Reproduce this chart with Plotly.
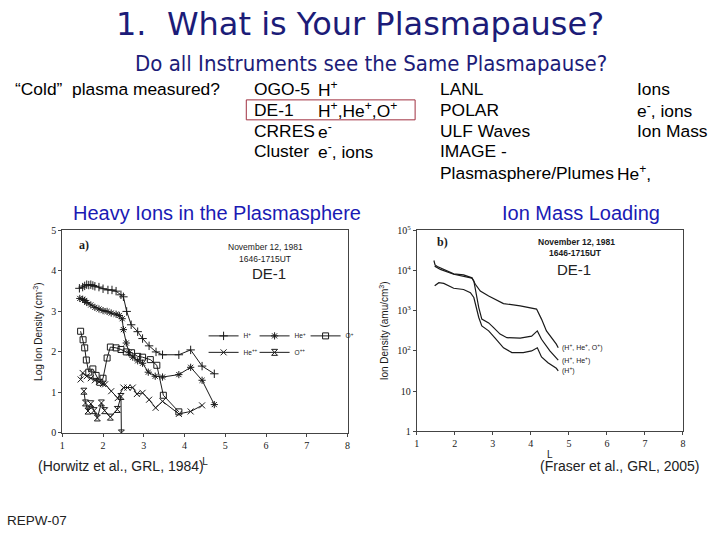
import math
import plotly.graph_objects as go

# ---------------- Left panel: DE-1 log ion density (cm^-3) vs L ----------------
H_L = [1.42, 1.5, 1.55, 1.6, 1.65, 1.7, 1.75, 1.8, 1.9, 2.0, 2.12, 2.22, 2.32, 2.44, 2.5,
       2.58, 2.69, 2.85, 2.97, 3.13, 3.3, 3.46, 3.86, 4.15, 4.43, 4.73]
H_N = [3.57, 3.6, 3.63, 3.66, 3.65, 3.66, 3.64, 3.62, 3.6, 3.56, 3.53, 3.53, 3.5, 3.41, 3.36,
       3.0, 2.67, 2.5, 2.33, 2.15, 2.0, 1.93, 1.93, 2.05, 1.65, 1.46]

HeP_L = [1.43, 1.5, 1.55, 1.6, 1.7, 1.8, 1.9, 2.0, 2.1, 2.2, 2.32, 2.4, 2.47, 2.5, 2.57,
         2.64, 2.73, 2.85, 2.97, 3.11, 3.28, 3.46, 3.86, 4.15, 4.43, 4.73]
HeP_N = [3.32, 3.3, 3.27, 3.22, 3.16, 3.1, 3.06, 3.02, 3.0, 2.96, 2.93, 2.9, 2.82, 2.55, 2.22,
         1.98, 1.87, 1.78, 1.72, 1.5, 1.4, 1.38, 1.44, 1.62, 1.3, 0.7]

O_L = [1.45, 1.51, 1.55, 1.59, 1.65, 1.75, 1.83, 1.92, 2.0, 2.1, 2.18, 2.32, 2.44, 2.57,
       2.7, 2.85, 2.97, 3.16, 3.32, 3.48, 3.86]
O_N = [2.51, 2.3, 2.1, 1.8, 1.5, 1.58, 1.42, 1.25, 1.35, 1.85, 2.12, 2.1, 2.06, 2.0,
       1.98, 1.89, 1.87, 1.81, 1.67, 0.93, 0.52]

HePP_L = [1.45, 1.5, 1.6, 1.7, 1.8, 1.9, 2.0, 2.05, 2.2, 2.36, 2.5, 2.6, 2.73, 2.83, 2.97,
          3.13, 3.29, 3.46, 3.86, 4.15, 4.43]
HePP_N = [1.32, 1.48, 1.4, 1.35, 1.3, 1.26, 1.21, 1.2, 1.03, 0.86, 1.12, 1.12, 1.12, 0.96, 0.99,
          0.82, 0.62, 0.78, 0.47, 0.53, 0.68]

OPP_L = [1.53, 1.57, 1.63, 1.7, 1.78, 1.86, 1.96, 2.04, 2.18, 2.35, 2.44, 2.45]
OPP_N = [1.03, 0.74, 0.54, 0.72, 0.55, 0.37, 0.74, 0.55, 0.39, 0.58, 0.9, 0.0]

# ---------------- Right panel: mass density (amu/cm^3) vs L ----------------
ALL_L = [1.45, 1.48, 1.54, 1.71, 1.97, 2.23, 2.45, 2.54, 2.67, 2.89, 3.1, 3.28, 3.72,
         4.15, 4.28, 4.41, 4.67, 4.72]
ALL_D = [17800, 13800, 12600, 10700, 8300, 7800, 6600, 4570, 3090, 2340, 1820, 1510, 1320,
         1100, 620, 316, 148, 120]

HHE_L = [1.47, 1.62, 1.97, 2.23, 2.45, 2.5, 2.63, 2.71, 2.89, 3.02, 3.19, 3.37, 3.72,
         4.02, 4.17, 4.28, 4.5, 4.72]
HHE_D = [12900, 10700, 8100, 7200, 6500, 5500, 1200, 620, 500, 380, 263, 214, 209,
         234, 316, 195, 100, 59]

HP_L = [1.47, 1.58, 1.71, 1.97, 2.23, 2.41, 2.5, 2.63, 2.71, 2.89, 3.06, 3.28, 3.5, 3.8,
        4.02, 4.17, 4.28, 4.45, 4.67, 4.72]
HP_D = [4170, 5000, 4800, 3630, 3390, 2820, 2140, 680, 420, 316, 209, 120, 91, 91,
        100, 120, 71, 51, 37, 32]

CURVE_LABELS = ["(H<sup>+</sup>, He<sup>+</sup>, O<sup>+</sup>)",
                "(H<sup>+</sup>, He<sup>+</sup>)", "(H<sup>+</sup>)"]

X_TICKS = [1, 2, 3, 4, 5, 6, 7, 8]
Y1_TICKS = [0, 1, 2, 3, 4, 5]
Y2_TICKS = [1, 10, 100, 1000, 10000, 100000]
Y2_TEXT = ["1", "10", "10<sup>2</sup>", "10<sup>3</sup>", "10<sup>4</sup>", "10<sup>5</sup>"]

W, H = 720, 540
def px(x):
    return x / W
def py(y):
    # y given in target page pixels; compensates the capture's slight vertical squeeze
    yy = (y - 5.4) / 0.98
    return 1 - yy / H

fig = go.Figure()

ink = "#1a1a1a"
def ion_trace(xs, ys, name, symbol, legend):
    return go.Scatter(
        x=xs, y=ys, mode="lines+markers", name=name, legend=legend,
        line=dict(color=ink, width=1),
        marker=dict(symbol=symbol, size=6, color=ink, line=dict(width=1, color=ink)),
        xaxis="x", yaxis="y")

fig.add_trace(ion_trace(H_L, H_N, "H<sup>+</sup>", "cross-thin-open", "legend"))
fig.add_trace(ion_trace(HeP_L, HeP_N, "He<sup>+</sup>", "asterisk-open", "legend"))
fig.add_trace(ion_trace(O_L, O_N, "O<sup>+</sup>", "square-open", "legend"))
fig.add_trace(ion_trace(HePP_L, HePP_N, "He<sup>++</sup>", "x-thin-open", "legend2"))
fig.add_trace(ion_trace(OPP_L, OPP_N, "O<sup>++</sup>", "hourglass-open", "legend2"))

for xs, ys in [(ALL_L, ALL_D), (HHE_L, HHE_D), (HP_L, HP_D)]:
    fig.add_trace(go.Scatter(x=xs, y=ys, mode="lines", showlegend=False,
                             line=dict(color=ink, width=1.2), xaxis="x2", yaxis="y2"))

for lab, xs, ys in zip(CURVE_LABELS, [ALL_L, HHE_L, HP_L], [ALL_D, HHE_D, HP_D]):
    fig.add_annotation(x=xs[-1] + 0.05, y=math.log10(ys[-1]), xref="x2", yref="y2",
                       text=lab, showarrow=False, xanchor="left",
                       font=dict(family="Liberation Sans", size=7, color=ink))

tickfont = dict(family="Liberation Serif", size=10, color=ink)
axis_common = dict(showline=True, mirror=True, linecolor="#444", linewidth=1,
                   ticks="outside", ticklen=3, tickcolor="#444", showgrid=False,
                   zeroline=False, tickfont=tickfont)
leg_font = dict(family="Liberation Sans", size=6.5, color=ink)

fig.update_layout(
    width=W, height=H, autosize=False, margin=dict(l=0, r=0, t=0, b=0),
    paper_bgcolor="white", plot_bgcolor="white",
    xaxis=dict(domain=[px(60.7), px(348)], range=[1, 8], tickvals=X_TICKS, anchor="y",
               title=dict(text="L", font=dict(family="Liberation Sans", size=10, color=ink), standoff=8),
               **axis_common),
    yaxis=dict(domain=[py(432.3), py(229.3)], range=[0, 5], tickvals=Y1_TICKS, anchor="x",
               title=dict(text="Log Ion Density (cm<sup>-3</sup>)",
                          font=dict(family="Liberation Sans", size=10, color=ink), standoff=6),
               **axis_common),
    xaxis2=dict(domain=[px(417.7), px(685.7)], range=[1, 8], tickvals=X_TICKS, anchor="y2",
                title=dict(text="L", font=dict(family="Liberation Sans", size=10, color=ink), standoff=2),
                **axis_common),
    yaxis2=dict(domain=[py(430.7), py(229.3)], type="log", range=[0, 5], tickvals=Y2_TICKS,
                ticktext=Y2_TEXT, anchor="x2",
                title=dict(text="Ion Density (amu/cm<sup>3</sup>)",
                           font=dict(family="Liberation Sans", size=10, color=ink), standoff=6),
                **axis_common),
    legend=dict(orientation="h", x=px(203), y=py(320.5), xanchor="left", yanchor="top",
                font=leg_font, itemwidth=30, entrywidth=6, bgcolor="rgba(0,0,0,0)",
                tracegroupgap=0),
    legend2=dict(orientation="h", x=px(203), y=py(337), xanchor="left", yanchor="top",
                 font=leg_font, itemwidth=30, entrywidth=6, bgcolor="rgba(0,0,0,0)",
                 tracegroupgap=0),
)

navy = "#1c1c78"
blue = "#1a1ab4"
def txt(x, y, s, size, color="black", family="Liberation Sans", xanchor="left", **kw):
    fig.add_annotation(x=px(x), y=py(y), xref="paper", yref="paper", text=s, showarrow=False,
                       xanchor=xanchor, yanchor="middle",
                       font=dict(family=family, size=size, color=color), **kw)

txt(360, 22, "1.  What is Your Plasmapause?", 32, navy, "DejaVu Sans", "center")
txt(372, 62, "Do all Instruments see the Same Plasmapause?", 22, navy, "DejaVu Sans Condensed", "center")

body = 17.4
txt(11, 88, "“Cold”  plasma measured?", body)
rows_y = [88, 108.5, 129.3, 150, 171.7]
for s, y in zip(["OGO-5", "DE-1", "CRRES", "Cluster"], rows_y):
    txt(252, y, s, body)
for s, y in zip(["H<sup>+</sup>", "H<sup>+</sup>,He<sup>+</sup>,O<sup>+</sup>", "e<sup>-</sup>",
                 "e<sup>-</sup>, ions"], rows_y):
    txt(316, y, s, body)
for s, y in zip(["LANL", "POLAR", "ULF Waves", "IMAGE -", "Plasmasphere/Plumes"], rows_y):
    txt(439, y, s, body)
for s, y in zip(["Ions", "e<sup>-</sup>, ions", "Ion Mass"], rows_y):
    txt(637, y, s, body)
txt(617, 171.7, "He<sup>+</sup>,", body)

fig.add_shape(type="rect", xref="paper", yref="paper", x0=px(246), x1=px(416),
              y0=py(118.5), y1=py(98.5), line=dict(color="#a03040", width=1))

txt(216, 212, "Heavy Ions in the Plasmasphere", 20, blue, xanchor="center")
txt(583.5, 212, "Ion Mass Loading", 20, blue, xanchor="center")

txt(265, 245.7, "November 12, 1981", 8.5, ink, xanchor="center")
txt(265, 257.5, "1646-1715UT", 8.5, ink, xanchor="center")
txt(269, 273, "DE-1", 15, "#222", xanchor="center")
txt(76, 244, "<b>a)</b>", 12, ink, "Liberation Serif")

txt(579, 240.5, "<b>November 12, 1981</b>", 8.5, ink, xanchor="center")
txt(578, 252, "<b>1646-1715UT</b>", 8.5, ink, xanchor="center")
txt(576, 268, "DE-1", 15, "#222", xanchor="center")
txt(436, 241, "<b>b)</b>", 12, ink, "Liberation Serif")

txt(120, 465, "(Horwitz et al., GRL, 1984)", 14, "#222", xanchor="center")
txt(622, 465, "(Fraser et al., GRL, 2005)", 14, "#222", xanchor="center")
txt(3, 520, "REPW-07", 13.5, "#222")

post = ("document.body.style.margin='0';document.body.style.overflow='hidden';"
        "var g=document.getElementById('{plot_id}');g.style.position='fixed';"
        "g.style.top='0px';g.style.left='0px';")
fig.write_html("out.html", config={"responsive": False, "displayModeBar": False},
               post_script=post)
